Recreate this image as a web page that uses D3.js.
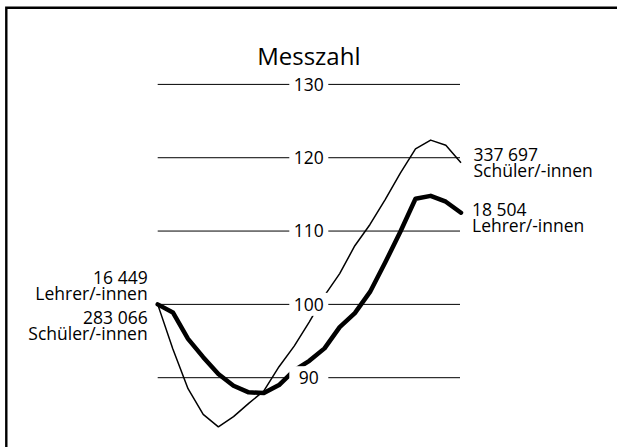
<!DOCTYPE html>
<html>
<head>
<meta charset="utf-8">
<script src="https://cdn.jsdelivr.net/npm/d3@7"></script>
<style>
  body { margin: 0; background: #fff; }
  svg { display: block; font-family: "Open Sans", sans-serif; }
</style>
</head>
<body>
<div class="chart"></div>
<script>
// Index values (first year = 100), one point per year
var schueler = [100, 93.9, 88.5, 85.0, 83.3, 84.7, 86.5, 88.2, 91.5, 94.3, 97.6,
                101.2, 104.2, 108.0, 110.9, 114.3, 117.9, 121.2, 122.4, 121.7, 119.3];
var lehrer = [100, 98.9, 95.3, 92.8, 90.5, 88.9, 88.0, 87.9, 89.0, 91.0, 92.3,
              94.0, 96.9, 98.8, 101.7, 105.7, 109.9, 114.4, 114.8, 114.0, 112.5];
var ticks = [90, 100, 110, 120, 130];
var startLabels = ["16 449", "Lehrer/-innen", "283 066", "Schüler/-innen"];
var endSchueler = ["337 697", "Schüler/-innen"];
var endLehrer = ["18 504", "Lehrer/-innen"];
var title = "Messzahl";

var width = 617, height = 447;

var svg = d3.select(".chart").append("svg")
    .attr("width", width)
    .attr("height", height);

// frame (only top and left edges visible)
svg.append("path")
    .attr("d", "M6.3," + height + "V7.8H" + width)
    .attr("fill", "none")
    .attr("stroke", "#000")
    .attr("stroke-width", 2.4);

var x = d3.scaleLinear()
    .domain([0, schueler.length - 1])
    .range([157.7, 461]);

var y = d3.scaleLinear()
    .domain([90, 130])
    .range([377.7, 84.4]);

var midX = 308.8;

// gridlines
svg.append("g").selectAll("line")
    .data(ticks)
    .enter().append("line")
    .attr("x1", x(0))
    .attr("x2", x(20) - 1)
    .attr("y1", function(d) { return y(d); })
    .attr("y2", function(d) { return y(d); })
    .attr("stroke", "#000")
    .attr("stroke-width", 1);

var line = d3.line()
    .x(function(d, i) { return x(i); })
    .y(function(d) { return y(d); });

svg.append("path")
    .datum(schueler)
    .attr("d", line)
    .attr("fill", "none")
    .attr("stroke", "#000")
    .attr("stroke-width", 1.5)
    .attr("stroke-linejoin", "round");

svg.append("path")
    .datum(lehrer)
    .attr("d", line)
    .attr("fill", "none")
    .attr("stroke", "#000")
    .attr("stroke-width", 4.5)
    .attr("stroke-linejoin", "round")
    .attr("stroke-linecap", "round");

// tick labels sit in white boxes on top of the lines
var tickG = svg.append("g").selectAll("g")
    .data(ticks)
    .enter().append("g")
    .attr("transform", function(d) { return "translate(" + midX + "," + y(d) + ")"; });

tickG.append("rect")
    .attr("x", -19.5)
    .attr("y", -11.5)
    .attr("width", 39)
    .attr("height", 23)
    .attr("fill", "#fff");

tickG.append("text")
    .attr("text-anchor", "middle")
    .attr("dy", "0.36em")
    .attr("font-size", 17.5)
    .text(function(d) { return d; });

svg.append("text")
    .attr("x", midX)
    .attr("y", 65)
    .attr("text-anchor", "middle")
    .attr("font-size", 24)
    .text(title);

// labels at the start
var startY = [284, 300, 324, 339.5];
svg.append("g").selectAll("text")
    .data(startLabels)
    .enter().append("text")
    .attr("x", 147.7)
    .attr("y", function(d, i) { return startY[i]; })
    .attr("text-anchor", "end")
    .attr("font-size", 17.5)
    .text(function(d) { return d; });

// labels at the end
function endLabel(lines, x0, y0) {
    svg.append("g").selectAll("text")
        .data(lines)
        .enter().append("text")
        .attr("x", x0)
        .attr("y", function(d, i) { return y0 + i * 16; })
        .attr("font-size", 17.5)
        .text(function(d) { return d; });
}
endLabel(endSchueler, 473.5, 160.7);
endLabel(endLehrer, 472, 215.7);
</script>
</body>
</html>
